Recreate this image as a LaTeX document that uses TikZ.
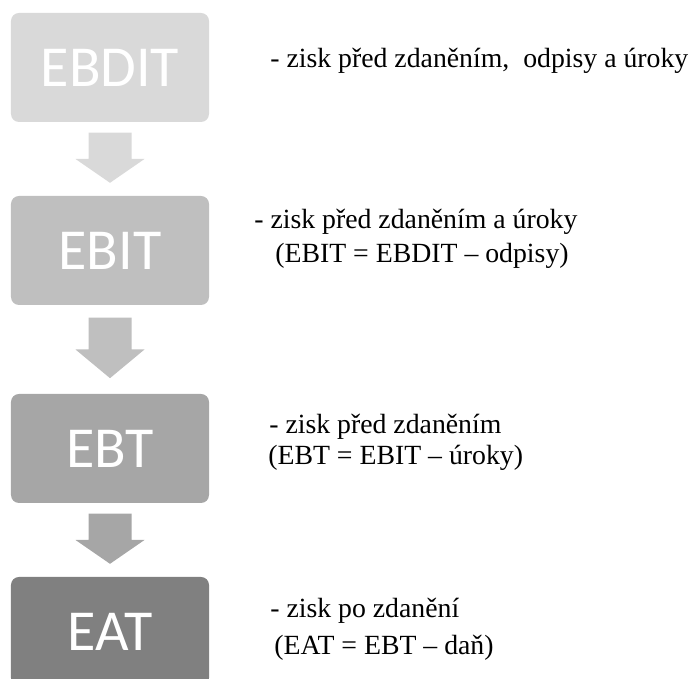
\documentclass[tikz,border=0pt]{standalone}
\usepackage{fontspec}
\setmainfont{Liberation Serif}
\newfontfamily\boxfont{Carlito}
\usetikzlibrary{calc}
\usetikzlibrary{positioning}
\tikzset{>=stealth}
\definecolor{shadeA}{HTML}{D9D9D9}
\definecolor{shadeB}{HTML}{BFBFBF}
\definecolor{shadeC}{HTML}{A6A6A6}
\definecolor{shadeD}{HTML}{808080}
\tikzset{
  stage/.style={fill=#1, rounded corners=0.16cm, minimum width=3.96cm, minimum height=2.18cm,
    inner sep=0, text=white, font=\boxfont\fontsize{33}{33}\selectfont},
  note/.style={anchor=base west, inner sep=0, font=\fontsize{15.8}{18}\selectfont}
}

\begin{document}
\begin{tikzpicture}[scale=1]
          \path[use as bounding box, clip] (0, 0) rectangle (13.88, 13.58);
          % the four stages
          \node[stage=shadeA] (ebdit) at (2.2, 12.23) {EBDIT};
          \node[stage=shadeB] (ebit) at (2.2, 8.57) {EBIT};
          \node[stage=shadeC] (ebt) at (2.2, 4.61) {EBT};
          \node[stage=shadeD] (eat) at (2.2, 0.95) {EAT};
          % block arrows between them
          \foreach \a/\b/\c in {ebdit/ebit/shadeA, ebit/ebt/shadeB, ebt/eat/shadeC} {
            \fill [\c] ($(\a.south)!0.14!(\b.north) + (-0.43, 0)$) -- ($(\a.south)!0.5!(\b.north) + (-0.43, 0)$)
              -- ($(\a.south)!0.5!(\b.north) + (-0.69, 0)$) -- ($(\a.south)!0.825!(\b.north)$)
              -- ($(\a.south)!0.5!(\b.north) + (0.69, 0)$) -- ($(\a.south)!0.5!(\b.north) + (0.43, 0)$)
              -- ($(\a.south)!0.14!(\b.north) + (0.43, 0)$) -- cycle;
          }
          % descriptions
          \node[note] (t1) at (5.4, 12.22) {- zisk před zdaněním,~ odpisy a úroky};
          \node[note] (t2a) at (5.08, 9.0) {- zisk před zdaněním a úroky};
          \node[note] (t2b) at (5.5, 8.32) {(EBIT = EBDIT – odpisy)};
          \node[note] (t3a) at (5.38, 4.9) {- zisk před zdaněním};
          \node[note] (t3b) at (5.36, 4.28) {(EBT = EBIT – úroky)};
          \node[note] (t4a) at (5.4, 1.22) {- zisk po zdanění};
          \node[note] (t4b) at (5.48, 0.48) {(EAT = EBT – daň)};
        \end{tikzpicture}
\end{document}
